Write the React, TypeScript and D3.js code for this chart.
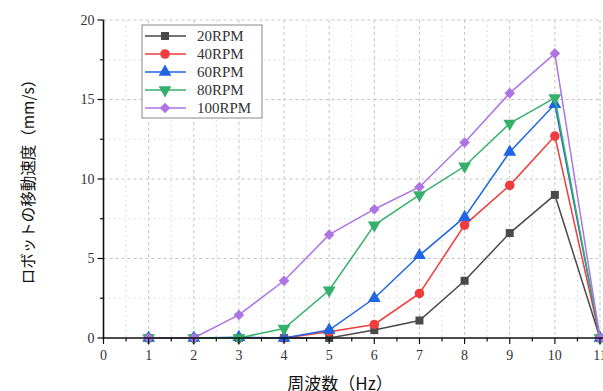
import React from 'react';
import * as d3 from 'd3';

// frequency (Hz) for each measured point
const freqs = [1, 2, 3, 4, 5, 6, 7, 8, 9, 10, 11];

// robot speed (mm/s) per RPM setting
const rpm20 = [0, 0, 0, 0, 0, 0.5, 1.1, 3.6, 6.6, 9.0, 0];
const rpm40 = [0, 0, 0, 0, 0.4, 0.85, 2.8, 7.1, 9.6, 12.7, 0];
const rpm60 = [0, 0, 0.05, 0, 0.5, 2.5, 5.2, 7.6, 11.7, 14.7, 0];
const rpm80 = [0, 0, 0, 0.6, 3.0, 7.1, 9.0, 10.8, 13.5, 15.1, 0];
const rpm100 = [0, 0, 1.45, 3.6, 6.5, 8.1, 9.5, 12.3, 15.4, 17.9, 0];

const seriesNames = ['20RPM', '40RPM', '60RPM', '80RPM', '100RPM'];
const seriesValues = [rpm20, rpm40, rpm60, rpm80, rpm100];
const seriesColors = ['#4a4a4a', '#f03c3c', '#1f66e5', '#35b06a', '#ad74e4'];
const seriesSymbols = ['square', 'circle', 'triUp', 'triDown', 'diamond'];

const xTicks = [0, 1, 2, 3, 4, 5, 6, 7, 8, 9, 10, 11];
const yTicks = [0, 5, 10, 15, 20];

const W = 603;
const H = 391;
const serif = '"Liberation Serif", "DejaVu Serif", serif';
const cjk = '"Noto Sans CJK JP", "Noto Sans", sans-serif';

// marker path + rotation for each symbol name
function markerPath(sym: string) {
  switch (sym) {
    case 'square':
      return { d: d3.symbol().type(d3.symbolSquare).size(64)(), rot: 0 };
    case 'circle':
      return { d: d3.symbol().type(d3.symbolCircle).size(72)(), rot: 0 };
    case 'triUp':
      return { d: d3.symbol().type(d3.symbolTriangle).size(72)(), rot: 0 };
    case 'triDown':
      return { d: d3.symbol().type(d3.symbolTriangle).size(72)(), rot: 180 };
    default:
      return { d: d3.symbol().type(d3.symbolSquare).size(56)(), rot: 45 };
  }
}

export default function App() {
  const x = d3.scaleLinear().domain([0, 11]).range([103.5, 600]);
  const y = d3.scaleLinear().domain([0, 20]).range([338, 20]);

  const line = d3.line<number>()
    .x((_, i) => x(freqs[i]))
    .y((d) => y(d));

  const minorX = d3.range(0, 11.01, 0.5);
  const minorY = d3.range(0, 20.01, 2.5);

  return (
    <svg width={W} height={H} style={{ position: 'absolute', left: 0, top: 0, background: '#fff' }}>
      {/* grid */}
      {minorX.filter((v) => v > 0).map((v) => (
        <line key={'gx' + v} x1={x(v)} x2={x(v)} y1={y(20)} y2={y(0)}
          stroke={Number.isInteger(v) ? '#c4c4c4' : '#dcdcdc'}
          strokeDasharray={Number.isInteger(v) ? '3,3' : '2,3'} strokeWidth={1} />
      ))}
      {minorY.filter((v) => v > 0).map((v) => (
        <line key={'gy' + v} x1={x(0)} x2={x(11)} y1={y(v)} y2={y(v)}
          stroke={v % 5 === 0 ? '#c4c4c4' : '#dcdcdc'}
          strokeDasharray={v % 5 === 0 ? '3,3' : '2,3'} strokeWidth={1} />
      ))}

      {/* series */}
      {seriesValues.map((vals, si) => (
        <g key={seriesNames[si]}>
          <path d={line(vals) || ''} fill="none" stroke={seriesColors[si]} strokeWidth={1.5} />
          {vals.map((v, i) => {
            const m = markerPath(seriesSymbols[si]);
            return (
              <path key={i} d={m.d || ''} fill={seriesColors[si]}
                transform={`translate(${x(freqs[i])},${y(v)}) rotate(${m.rot})`} />
            );
          })}
        </g>
      ))}

      {/* axes */}
      <line x1={x(0)} x2={x(0)} y1={y(20)} y2={y(0) + 1} stroke="#111" strokeWidth={1.6} />
      <line x1={x(0) - 1} x2={x(11) + 5} y1={y(0)} y2={y(0)} stroke="#111" strokeWidth={1.6} />
      {minorY.map((v) => (
        <line key={'ty' + v} x1={x(0)} x2={x(0) - (v % 5 === 0 ? 6 : 3.5)} y1={y(v)} y2={y(v)}
          stroke="#111" strokeWidth={1.2} />
      ))}
      {minorX.map((v) => (
        <line key={'tx' + v} y1={y(0)} y2={y(0) + (Number.isInteger(v) ? 6 : 3.5)} x1={x(v)} x2={x(v)}
          stroke="#111" strokeWidth={1.2} />
      ))}
      {yTicks.map((v) => (
        <text key={'ly' + v} x={x(0) - 9} y={y(v)} dy="0.35em" textAnchor="end"
          fontFamily={serif} fontSize={14} fill="#333">{v}</text>
      ))}
      {xTicks.map((v) => (
        <text key={'lx' + v} x={x(v)} y={y(0) + 22} textAnchor="middle"
          fontFamily={serif} fontSize={14} fill="#333">{v}</text>
      ))}

      {/* axis titles */}
      <text x={340} y={390} textAnchor="middle" fontFamily={cjk} fontSize={17} fill="#111">周波数（Hz）</text>
      <text transform="translate(34,178) rotate(-90)" textAnchor="middle" fontFamily={cjk} fontSize={15.5} fill="#111">
        ロボットの移動速度（mm/s）
      </text>

      {/* legend */}
      <g transform="translate(142,25)">
        <rect x={0} y={0} width={120} height={93} fill="#fff" stroke="#888" strokeWidth={1} />
        {seriesNames.map((name, i) => {
          const m = markerPath(seriesSymbols[i]);
          const cy = 11 + i * 18;
          return (
            <g key={name}>
              <line x1={3} x2={44} y1={cy} y2={cy} stroke={seriesColors[i]} strokeWidth={1.5} />
              <path d={m.d || ''} fill={seriesColors[i]} transform={`translate(23,${cy}) rotate(${m.rot})`} />
              <text x={55} y={cy} dy="0.35em" fontFamily={serif} fontSize={15} fill="#333">{name}</text>
            </g>
          );
        })}
      </g>
    </svg>
  );
}
